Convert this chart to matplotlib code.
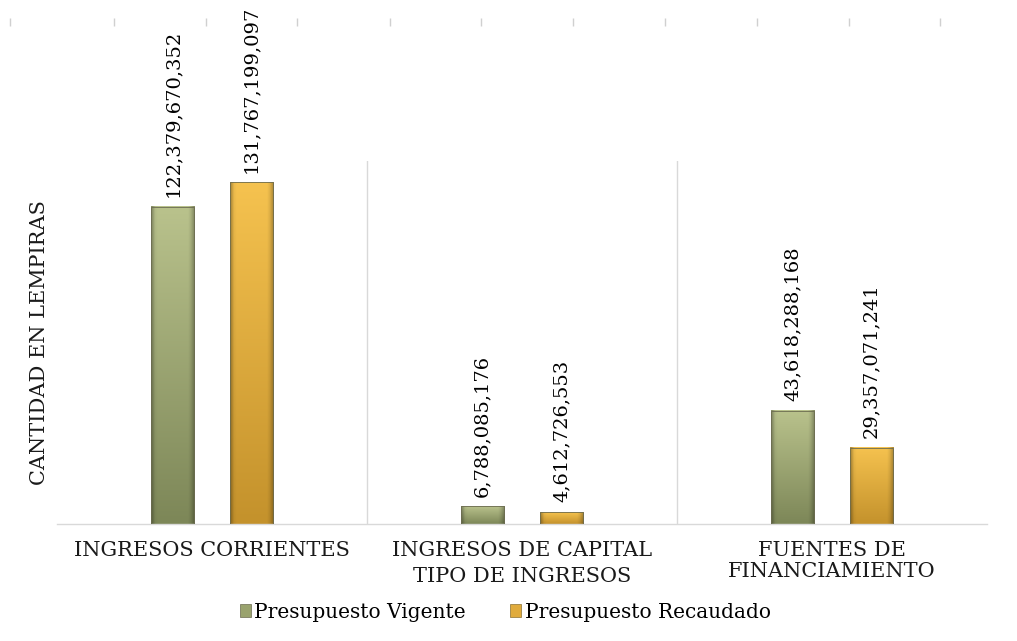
import numpy as np
import matplotlib
matplotlib.use("Agg")
import matplotlib.pyplot as plt
from matplotlib.patches import Patch
import matplotlib.colors as mcolors

categories = ["INGRESOS CORRIENTES", "INGRESOS DE CAPITAL", "FUENTES DE\nFINANCIAMIENTO"]
series_names = ["Presupuesto Vigente", "Presupuesto Recaudado"]
vigente = [122379670352, 6788085176, 43618288168]
recaudado = [131767199097, 4612726553, 29357071241]
x_label = "TIPO DE INGRESOS"
y_label = "CANTIDAD EN LEMPIRAS"

FONT = "DejaVu Serif"
plt.rcParams["font.family"] = [FONT]

fig = plt.figure(figsize=(10.17, 6.41), dpi=100)
ax = fig.add_axes([0.056, 0.1825, 0.9145, 0.5665])

top_col = {"v": "#b9c28c", "r": "#f5c24f"}
bot_col = {"v": "#7d8758", "r": "#c4922c"}

def gradient_img(c_top, c_bot, n=64):
    t = np.linspace(0, 1, n)[:, None]
    a = np.array(mcolors.to_rgb(c_top))
    b = np.array(mcolors.to_rgb(c_bot))
    col = a[None, None, :] * (1 - t[..., None]) + b[None, None, :] * t[..., None]
    col = np.repeat(col, 16, axis=1)
    xs = np.linspace(0, 1, 16)
    shade = 1 - 0.25 * (np.clip(1 - xs / 0.08, 0, 1) + np.clip((xs - 0.9) / 0.1, 0, 1))
    col = col * shade[None, :, None]
    return np.clip(col, 0, 1)

idx = np.arange(len(categories))
w = 0.139
off = 0.127
ymax = 140e9

bars_v = ax.bar(idx - off, vigente, w, color="none", edgecolor="none")
bars_r = ax.bar(idx + off, recaudado, w, color="none", edgecolor="none")

for bars, key in ((bars_v, "v"), (bars_r, "r")):
    img = gradient_img(top_col[key], bot_col[key])
    for p in bars:
        x0, y0 = p.get_x(), p.get_y()
        ax.imshow(img, extent=(x0, x0 + p.get_width(), y0, y0 + p.get_height()),
                  aspect="auto", origin="upper", zorder=2, interpolation="bilinear")
        ax.add_patch(plt.Rectangle((x0, y0), p.get_width(), p.get_height(),
                                   fill=False, edgecolor="#6b6b50", lw=0.6, zorder=3))
        ax.annotate(f"{p.get_height():,.0f}", (x0 + p.get_width() / 2, y0 + p.get_height()),
                    xytext=(0, 7), textcoords="offset points", rotation=90,
                    ha="center", va="bottom", fontsize=14, color="#000000",
                    annotation_clip=False)

ax.set_xlim(-0.5, len(categories) - 0.5)
ax.set_ylim(0, ymax)

for s in ["top", "left", "right"]:
    ax.spines[s].set_visible(False)
ax.spines["bottom"].set_color("#d9d9d9")
ax.spines["bottom"].set_linewidth(1.0)
ax.set_yticks([])
ax.set_xticks(idx)
ax.set_xticklabels(categories, fontsize=15, color="#1a1a1a", linespacing=1.15)
ax.tick_params(axis="x", length=0, pad=12)
for b in np.arange(0.5, len(categories) - 0.5, 1.0):
    ax.axvline(b, color="#d9d9d9", lw=1.0, zorder=1)

ax.set_xlabel(x_label, fontsize=15, color="#1a1a1a", labelpad=-10)
ax.set_ylabel(y_label, fontsize=15, color="#1a1a1a", labelpad=6)

handles = [Patch(facecolor="#9aa36e", edgecolor="#6b6b50", lw=0.5),
           Patch(facecolor="#e0ab3c", edgecolor="#8a7030", lw=0.5)]
fig.legend(handles, series_names, loc="center", bbox_to_anchor=(0.497, 0.045),
           ncol=2, frameon=False, fontsize=14.5, handlelength=0.55, handleheight=0.55,
           handletextpad=0.15, columnspacing=2.2)

# faint tick marks along the very top edge
axt = fig.add_axes([0, 0.96, 1, 0.02])
axt.set_xlim(0, 1017)
axt.set_xticks([10, 114, 206, 297, 390, 481, 573, 665, 757, 849, 940])
axt.tick_params(axis="x", direction="in", length=6, color="#d0d0d0", labelbottom=False, width=1)
axt.set_yticks([])
for s in axt.spines.values():
    s.set_visible(False)
axt.patch.set_alpha(0)

fig.savefig("out.png", dpi=100)
